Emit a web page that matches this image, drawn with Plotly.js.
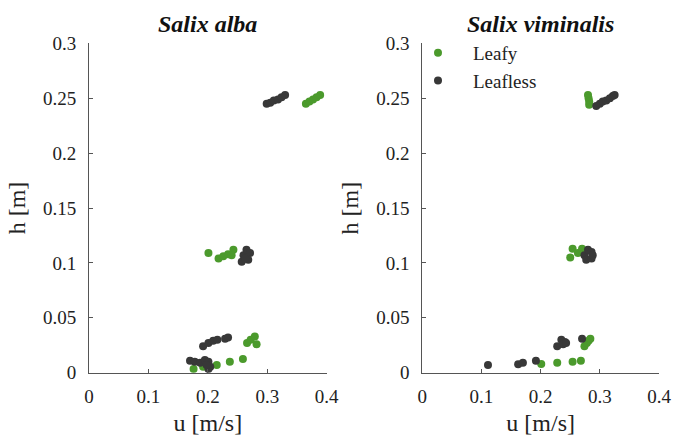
<!DOCTYPE html>
<html>
<head>
<meta charset="utf-8">
<script src="https://cdn.plot.ly/plotly-3.0.1.min.js"></script>
<style>html,body{margin:0;padding:0;background:#fff;}#chart{width:673px;height:437px;}</style>
</head>
<body>
<div id="chart"></div>
<script>
// Salix alba
var albaLeafyU = [0.365,0.371,0.377,0.383,0.389, 0.201,0.218,0.226,0.234,0.243,0.240, 0.266,0.272,0.279,0.282, 0.176,0.192,0.215,0.237,0.259];
var albaLeafyH = [0.245,0.247,0.249,0.251,0.253, 0.109,0.104,0.106,0.108,0.112,0.107, 0.027,0.030,0.033,0.026, 0.0034,0.0055,0.007,0.010,0.0125];
var albaLeaflessU = [0.299,0.305,0.311,0.318,0.324,0.330, 0.257,0.260,0.265,0.271,0.268,0.263, 0.192,0.201,0.209,0.216,0.229,0.234, 0.170,0.178,0.187,0.195,0.201,0.204,0.201,0.198];
var albaLeaflessH = [0.245,0.246,0.248,0.249,0.251,0.253, 0.101,0.107,0.112,0.109,0.103,0.104, 0.024,0.027,0.029,0.030,0.031,0.032, 0.011,0.010,0.009,0.0116,0.010,0.0055,0.0034,0.007];
// Salix viminalis
var vimLeafyU = [0.280,0.281,0.282,0.282, 0.254,0.250,0.263,0.270, 0.274,0.278,0.281,0.284, 0.201,0.228,0.254,0.268];
var vimLeafyH = [0.253,0.250,0.247,0.244, 0.113,0.105,0.109,0.113, 0.024,0.027,0.029,0.031, 0.008,0.009,0.010,0.011];
var vimLeaflessU = [0.294,0.300,0.305,0.311,0.317,0.322,0.325, 0.274,0.280,0.286,0.277,0.286,0.288, 0.228,0.235,0.241,0.238,0.243,0.270, 0.111,0.162,0.170,0.192];
var vimLeaflessH = [0.243,0.245,0.247,0.248,0.250,0.252,0.253, 0.107,0.112,0.110,0.103,0.104,0.107, 0.024,0.030,0.028,0.026,0.027,0.031, 0.007,0.0077,0.009,0.011];

var seriesNames = ['Leafy','Leafless'];
var panelTitles = ['Salix alba','Salix viminalis'];
var xTickVals = [0,0.1,0.2,0.3,0.4];
var yTickVals = [0,0.05,0.1,0.15,0.2,0.25,0.3];

var green = '#4b9a2c', dark = '#383838';
var serif = 'Liberation Serif, Times New Roman, serif';

function tr(x,y,name,color,xa,ya,show){
  return {x:x,y:y,type:'scatter',mode:'markers',name:name,xaxis:xa,yaxis:ya,showlegend:show,
    marker:{color:color,size:8,line:{width:0}},hoverinfo:'x+y'};
}
var data = [
  tr(albaLeafyU,albaLeafyH,seriesNames[0],green,'x','y',false),
  tr(albaLeaflessU,albaLeaflessH,seriesNames[1],dark,'x','y',false),
  tr(vimLeafyU,vimLeafyH,seriesNames[0],green,'x2','y2',true),
  tr(vimLeaflessU,vimLeaflessH,seriesNames[1],dark,'x2','y2',true)
];

function xax(dom, anchor){
  return {domain:dom,anchor:anchor,range:[0,0.4],tickvals:xTickVals,ticks:'inside',ticklen:4,tickcolor:'#555',
    showline:true,linecolor:'#555',linewidth:1,showgrid:false,zeroline:false,
    tickfont:{family:serif,size:19,color:'#222'},ticklabelstandoff:6,
    title:{text:'u [m/s]',font:{family:serif,size:24,color:'#222'},standoff:8}};
}
function yax(dom, anchor){
  return {domain:dom,anchor:anchor,range:[0,0.3],tickvals:yTickVals,ticks:'inside',ticklen:4,tickcolor:'#555',
    showline:true,linecolor:'#555',linewidth:1,showgrid:false,zeroline:false,
    tickfont:{family:serif,size:19,color:'#222'},ticklabelstandoff:8,
    title:{text:'h [m]',font:{family:serif,size:24,color:'#222'},standoff:10}};
}
var yDom = [(437-372.7)/437,(437-43.4)/437];
var layout = {
  width:673,height:437,margin:{l:0,r:0,t:0,b:0},
  paper_bgcolor:'#fff',plot_bgcolor:'#fff',
  xaxis:xax([89/673,326.7/673],'y'),
  yaxis:yax(yDom,'x'),
  xaxis2:xax([422.3/673,659/673],'y2'),
  yaxis2:yax(yDom,'x2'),
  showlegend:true,
  legend:{x:403/673,y:1-34/437,xanchor:'left',yanchor:'top',bgcolor:'rgba(0,0,0,0)',
    font:{family:serif,size:19,color:'#222'},itemwidth:60,tracegroupgap:0},
  annotations:[
    {text:panelTitles[0],xref:'paper',yref:'paper',x:(89+326.7)/2/673,y:1-24/437,xanchor:'center',yanchor:'middle',showarrow:false,
      font:{family:serif,size:24,color:'#111',weight:'bold',style:'italic'}},
    {text:panelTitles[1],xref:'paper',yref:'paper',x:(422.3+659)/2/673,y:1-24/437,xanchor:'center',yanchor:'middle',showarrow:false,
      font:{family:serif,size:24,color:'#111',weight:'bold',style:'italic'}}
  ]
};
Plotly.newPlot('chart',data,layout,{displayModeBar:false,staticPlot:true});
</script>
</body>
</html>
